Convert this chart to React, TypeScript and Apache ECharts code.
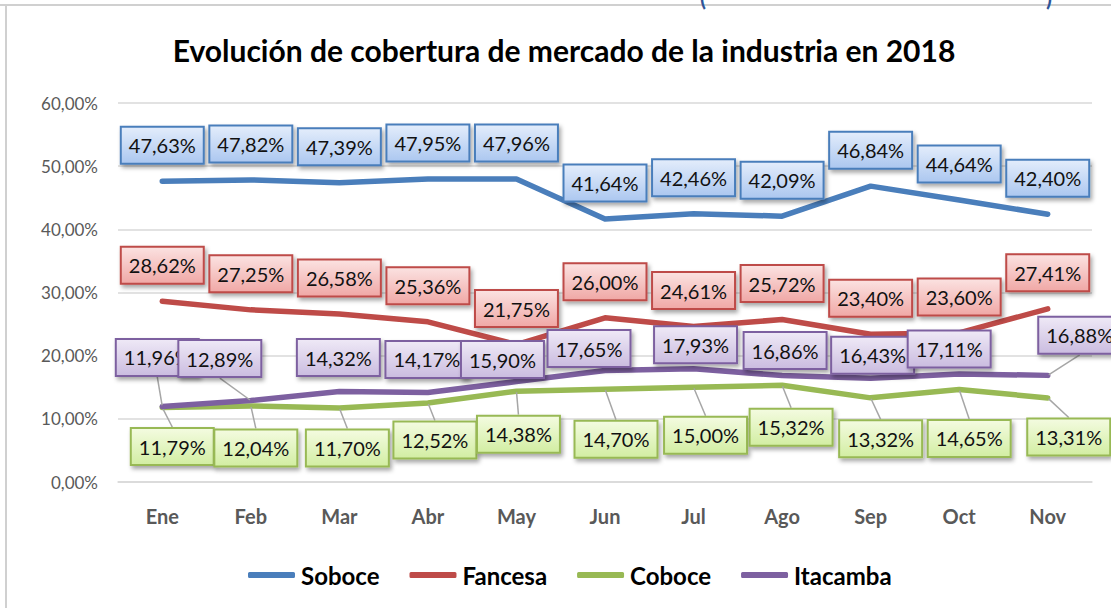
import React, { useEffect, useRef } from 'react';
import * as echarts from 'echarts';

const months = ['Ene', 'Feb', 'Mar', 'Abr', 'May', 'Jun', 'Jul', 'Ago', 'Sep', 'Oct', 'Nov'];
const seriesNames = ['Soboce', 'Fancesa', 'Coboce', 'Itacamba'];
const soboce = [47.63, 47.82, 47.39, 47.95, 47.96, 41.64, 42.46, 42.09, 46.84, 44.64, 42.40];
const fancesa = [28.62, 27.25, 26.58, 25.36, 21.75, 26.00, 24.61, 25.72, 23.40, 23.60, 27.41];
const coboce = [11.79, 12.04, 11.70, 12.52, 14.38, 14.70, 15.00, 15.32, 13.32, 14.65, 13.31];
const itacamba = [11.96, 12.89, 14.32, 14.17, 15.90, 17.65, 17.93, 16.86, 16.43, 17.11, 16.88];
const yMin = 0;
const yMax = 60;
const yStep = 10;

// label placement (offsets of label centre from its point, in px)
const topDx = [0, 0, 0, 0, 0, 0, 0, 0, 0, 0, 0];
const topDy = [-36, -36, -36, -36, -36, -36, -36, -36, -36, -36, -36];
const purpleDx = [-5, -31, -1, -1, -14, -16, 2, 3, 2, -10, 32];
const purpleDy = [-49, -42, -34, -33, -22, -22, -24, -25, -23, -25, -40];
const purpleLeader = [true, true, false, false, false, false, false, false, false, false, true];
const greenDx = [10, 5, 8, 7, 2, 11, 12, 9, 10, 10, 21];
const greenDy = [39, 42, 40, 37, 43, 50, 48, 42, 41, 49, 39];
const greenLeader = [true, true, true, true, true, true, true, true, true, true, true];

const FONT = 'Lato, "Open Sans", sans-serif';

const fmt = (v: number) => v.toFixed(2).replace('.', ',') + '%';

const grad = (top: string, bottom: string) => ({
  type: 'linear', x: 0, y: 0, x2: 0, y2: 1,
  colorStops: [{ offset: 0, color: top }, { offset: 1, color: bottom }],
});

function makeSeries(
  name: string, values: number[], color: string, bgTop: string, bgBottom: string,
  dx: number[], dy: number[], leader: boolean[] | null, z: number,
) {
  return {
    name,
    type: 'line',
    z,
    data: values.map((v, i) => ({
      value: v,
      labelLine: { show: leader ? leader[i] : false },
    })),
    symbol: 'circle',
    symbolSize: 2,
    showSymbol: true,
    itemStyle: { color },
    lineStyle: { color, width: 5.5, cap: 'round', join: 'round' },
    label: {
      show: true,
      position: 'top',
      formatter: (p: any) => fmt(p.value),
      fontFamily: FONT,
      fontSize: 20,
      color: '#111',
      backgroundColor: grad(bgTop, bgBottom),
      borderColor: color,
      borderWidth: 2,
      padding: [8, 7, 7, 7],
      shadowColor: 'rgba(0,0,0,0.35)',
      shadowBlur: 4,
      shadowOffsetX: 2,
      shadowOffsetY: 3,
    },
    labelLine: {
      show: false,
      lineStyle: { color: '#A6A6A6', width: 1.5 },
    },
    labelLayout: (p: any) => {
      const cx = p.rect.x + p.rect.width / 2;
      const cy = p.rect.y + p.rect.height / 2;
      return {
        x: cx + dx[p.dataIndex],
        y: cy + dy[p.dataIndex],
        align: 'center',
        verticalAlign: 'middle',
      };
    },
  };
}

export default function App() {
  const ref = useRef<HTMLDivElement>(null);
  useEffect(() => {
    if (!ref.current) return;
    const chart = echarts.init(ref.current, null, { renderer: 'svg' });
    const colors = ['#4A7EBB', '#BE4B48', '#98B954', '#7D60A0'];
    chart.setOption({
      animation: false,
      backgroundColor: '#ffffff',
      color: colors,
      grid: { left: 118, right: 19, top: 103, bottom: 126, containLabel: false },
      xAxis: {
        type: 'category',
        data: months,
        boundaryGap: true,
        axisLine: { lineStyle: { color: '#D9D9D9', width: 1.5 } },
        axisTick: { show: false },
        axisLabel: {
          color: '#595959', fontFamily: FONT, fontSize: 20, fontWeight: 'bold', margin: 24,
        },
      },
      yAxis: {
        type: 'value',
        min: yMin,
        max: yMax,
        interval: yStep,
        axisLine: { show: false },
        axisTick: { show: false },
        splitLine: { lineStyle: { color: '#D9D9D9', width: 1.5 } },
        axisLabel: {
          color: '#595959', fontFamily: FONT, fontSize: 17, margin: 20,
          formatter: (v: number) => fmt(v),
        },
      },
      legend: {
        data: seriesNames,
        left: 243,
        top: 558,
        icon: 'roundRect',
        itemWidth: 47,
        itemHeight: 6,
        itemGap: 30,
        textStyle: {
          color: '#000', fontFamily: FONT, fontSize: 24, fontWeight: 'bold', padding: [0, 0, 0, 1],
        },
      },
      graphic: [
        {
          type: 'line', silent: true,
          shape: { x1: 0, y1: 5, x2: 1111, y2: 5 },
          style: { stroke: '#D0D0D0', lineWidth: 2 },
        },
        {
          type: 'line', silent: true,
          shape: { x1: 6, y1: 5, x2: 6, y2: 608 },
          style: { stroke: '#D0D0D0', lineWidth: 2 },
        },
        {
          type: 'text', silent: true, x: 700, y: -14,
          style: { text: '(', fill: '#2F5597', font: 'bold 22px ' + FONT },
        },
        {
          type: 'text', silent: true, x: 1046, y: -14,
          style: { text: ')', fill: '#2F5597', font: 'bold 22px ' + FONT },
        },
        {
          type: 'text', silent: true, x: 564, y: 50,
          style: {
            text: 'Evolución de cobertura de mercado de la industria en 2018',
            fill: '#000', font: 'bold 30px ' + FONT,
            textAlign: 'center', textVerticalAlign: 'middle',
          },
        },
      ],
      series: [
        makeSeries('Soboce', soboce, colors[0], '#E2ECFB', '#ADC8F0', topDx, topDy, null, 2),
        makeSeries('Fancesa', fancesa, colors[1], '#FBE1E0', '#F0A9A7', topDx, topDy, null, 3),
        makeSeries('Coboce', coboce, colors[2], '#F3FBDF', '#D3EEA4', greenDx, greenDy, greenLeader, 4),
        makeSeries('Itacamba', itacamba, colors[3], '#EEE8F6', '#CBBDE0', purpleDx, purpleDy, purpleLeader, 5),
      ],
    });
    return () => chart.dispose();
  }, []);
  return (
    <div
      ref={ref}
      style={{ position: 'fixed', left: 0, top: 0, width: 1111, height: 608, background: '#fff' }}
    />
  );
}
